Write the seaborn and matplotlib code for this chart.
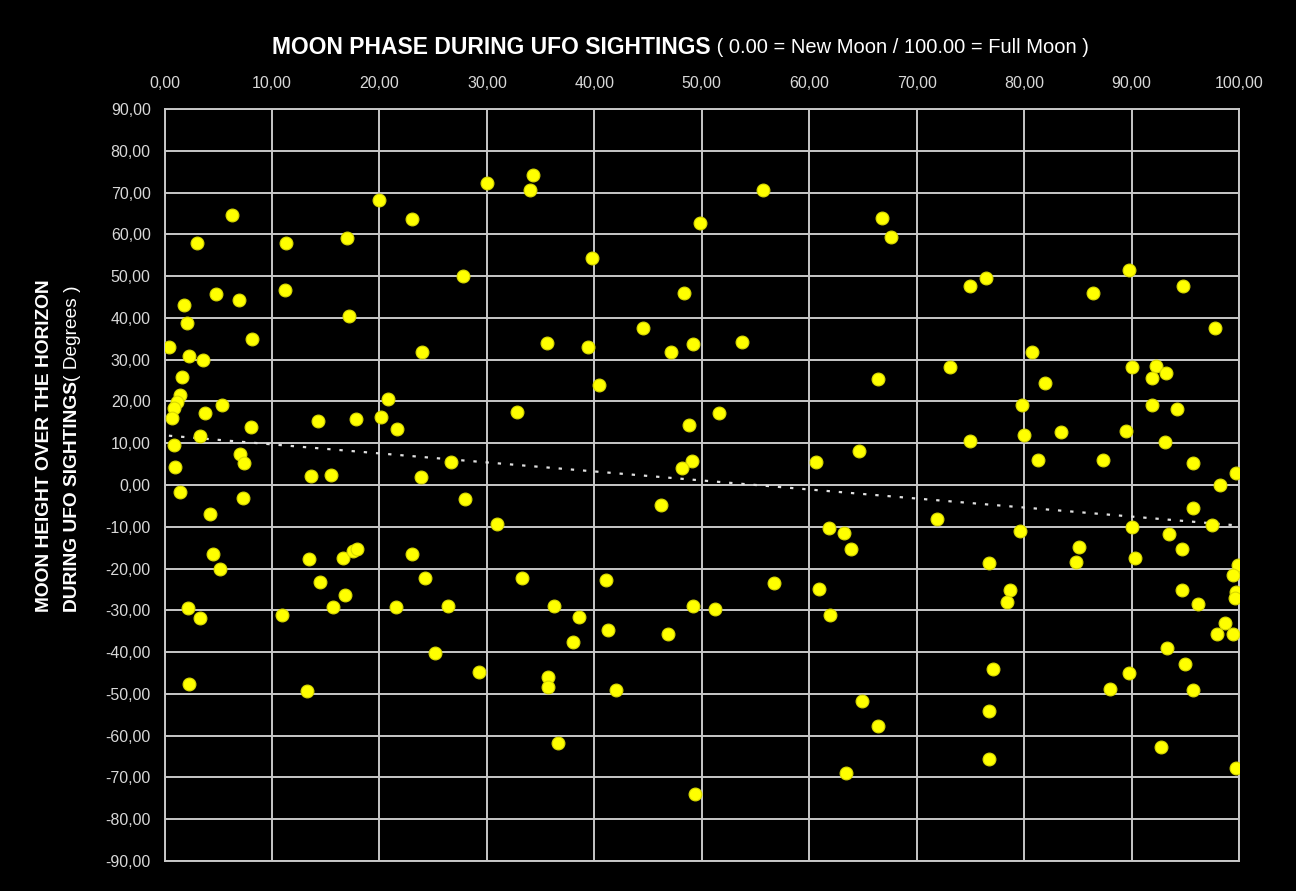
import pandas as pd
import seaborn as sns
import matplotlib.pyplot as plt
from matplotlib.ticker import FuncFormatter, MultipleLocator

# Moon phase (0 = new moon, 100 = full moon) and moon height above horizon (degrees)
moon_phase = [
    0.4, 2.3, 3.6, 24.0, 1.6, 1.4, 1.15, 0.9, 0.7, 5.3, 3.8, 3.3, 8.0, 0.9, 0.95,
    7.0, 7.4, 1.4, 7.3, 4.2, 14.3, 17.8, 20.1, 20.8, 21.6, 13.6, 15.5, 23.9, 4.5,
    5.2, 13.4, 16.6, 17.5, 17.9, 23.0, 14.5, 24.2, 16.8, 2.2, 15.7, 21.5, 3.3, 10.9,
    25.2, 2.3, 13.3, 6.3, 3.0, 11.3, 17.0, 20.0, 23.0, 4.8, 6.9, 1.8, 11.2, 2.1,
    17.2, 8.1, 30.0, 34.3, 34.0, 49.8, 39.8, 27.8, 48.3, 44.5, 35.6, 39.4, 47.1,
    49.2, 40.4, 32.8, 48.8, 26.7, 49.1, 48.2, 28.0, 46.2, 30.9, 33.3, 41.1, 26.4,
    36.2, 49.2, 38.6, 41.3, 38.0, 46.9, 29.3, 35.7, 35.7, 42.0, 36.6, 49.4, 55.7,
    66.8, 67.6, 75.0, 53.7, 66.4, 73.1, 51.6, 64.6, 60.6, 75.0, 71.9, 61.8, 63.2,
    63.9, 56.7, 60.9, 51.2, 61.9, 64.9, 66.4, 63.4, 89.8, 76.5, 86.4, 94.8, 97.8,
    80.7, 90.0, 92.3, 93.2, 91.9, 81.9, 79.8, 91.9, 94.2, 80.0, 83.4, 89.5, 93.1,
    81.3, 87.3, 95.7, 99.7, 98.2, 95.7, 97.5, 90.0, 79.6, 93.5, 94.7, 85.1, 84.8,
    90.3, 76.7, 99.9, 99.4, 78.7, 78.4, 94.7, 99.7, 99.6, 96.2, 98.7, 98.0, 99.4,
    93.3, 95.0, 77.1, 89.8, 88.0, 95.7, 76.7, 92.7, 76.7, 99.7,
]
moon_height = [
    33.0, 30.9, 29.9, 31.8, 25.8, 21.5, 19.9, 18.4, 16.0, 19.1, 17.3, 11.8, 13.9,
    9.6, 4.4, 7.4, 5.2, -1.6, -3.1, -7.0, 15.4, 15.8, 16.3, 20.6, 13.4, 2.2, 2.4,
    1.9, -16.5, -20.1, -17.7, -17.5, -15.8, -15.3, -16.5, -23.2, -22.2, -26.4,
    -29.5, -29.3, -29.3, -31.8, -31.1, -40.1, -47.6, -49.3, 64.6, 57.9, 57.9, 59.1,
    68.2, 63.6, 45.7, 44.3, 43.1, 46.6, 38.8, 40.4, 34.9, 72.2, 74.2, 70.6, 62.7,
    54.3, 50.0, 45.9, 37.6, 34.0, 33.0, 31.8, 33.7, 23.9, 17.5, 14.4, 5.5, 5.7,
    4.1, -3.3, -4.8, -9.3, -22.2, -22.7, -28.9, -28.9, -28.9, -31.5, -34.7, -37.6,
    -35.7, -44.7, -45.9, -48.3, -49.0, -61.7, -73.9, 70.6, 63.9, 59.3, 47.6, 34.2,
    25.4, 28.2, 17.3, 8.1, 5.5, 10.5, -8.1, -10.3, -11.5, -15.3, -23.5, -24.9,
    -29.6, -31.1, -51.7, -57.7, -68.9, 51.4, 49.5, 45.9, 47.6, 37.6, 31.8, 28.2,
    28.5, 26.8, 25.6, 24.4, 19.1, 19.1, 18.2, 12.0, 12.7, 12.9, 10.3, 6.0, 6.0,
    5.3, 2.9, 0.0, -5.5, -9.6, -10.0, -11.0, -11.7, -15.3, -14.8, -18.4, -17.5,
    -18.6, -19.1, -21.5, -25.1, -28.0, -25.1, -25.6, -27.0, -28.5, -33.0, -35.7,
    -35.7, -39.0, -42.8, -44.1, -45.0, -48.8, -49.0, -54.0, -62.6, -65.6, -67.8,
]

df = pd.DataFrame({'phase': moon_phase, 'height': moon_height})

sns.set_style({'axes.facecolor': 'black', 'figure.facecolor': 'black',
               'axes.grid': True, 'grid.color': '#c8c8c8', 'axes.edgecolor': '#c8c8c8'})
plt.rcParams['font.family'] = ['Liberation Sans', 'DejaVu Sans']

fig, ax = plt.subplots(figsize=(12.96, 8.91), dpi=100)
fig.subplots_adjust(left=0.127, right=0.956, top=0.8777, bottom=0.0337)

# trend line and sightings
sns.regplot(x='phase', y='height', data=df, scatter=False, ci=None, ax=ax,
            line_kws=dict(color='#e0e0e0', lw=1.6, ls=(0, (1.5, 4)), zorder=3))
sns.scatterplot(x='phase', y='height', data=df, color='#ffff00', edgecolor='#d8d800',
                s=85, linewidth=0.8, ax=ax, zorder=4)

ax.set_xlim(0, 100)
ax.set_ylim(-90, 90)
ax.xaxis.set_major_locator(MultipleLocator(10))
ax.yaxis.set_major_locator(MultipleLocator(10))
fmt = FuncFormatter(lambda v, p: f"{v:.2f}".replace('.', ','))
ax.xaxis.set_major_formatter(fmt)
ax.yaxis.set_major_formatter(fmt)
ax.xaxis.tick_top()
ax.tick_params(axis='x', length=0, pad=13, labelsize=11.5, labelcolor='#d8d8d8')
ax.tick_params(axis='y', length=0, pad=10, labelsize=11.5, labelcolor='#d8d8d8')
ax.grid(True, color='#c8c8c8', lw=1.4)
ax.set_axisbelow(True)
for s in ax.spines.values():
    s.set_color('#c8c8c8')
    s.set_linewidth(1.4)
ax.set_xlabel('')
ax.set_ylabel('')

# title: bold part followed by normal part
t1 = fig.text(0.2099, 0.947, 'MOON PHASE DURING UFO SIGHTINGS', color='white',
              fontsize=16.5, fontweight='bold', ha='left', va='center')
ax.annotate(' ( 0.00 = New Moon / 100.00 = Full Moon )', xy=(1, 0.5), xycoords=t1,
            color='white', fontsize=14.5, ha='left', va='center', annotation_clip=False)

# y label on two lines
fig.text(0.0347, 0.313, 'MOON HEIGHT OVER THE HORIZON', color='white', fontsize=13.8,
         fontweight='bold', rotation=90, ha='center', va='bottom')
t2 = fig.text(0.0563, 0.313, 'DURING UFO SIGHTINGS', color='white', fontsize=13.8,
              fontweight='bold', rotation=90, ha='center', va='bottom')
ax.annotate('( Degrees )', xy=(0.5, 1), xycoords=t2, color='white', fontsize=13.8,
            rotation=90, ha='center', va='bottom', annotation_clip=False)

plt.savefig('out.png', dpi=100, facecolor='black')
